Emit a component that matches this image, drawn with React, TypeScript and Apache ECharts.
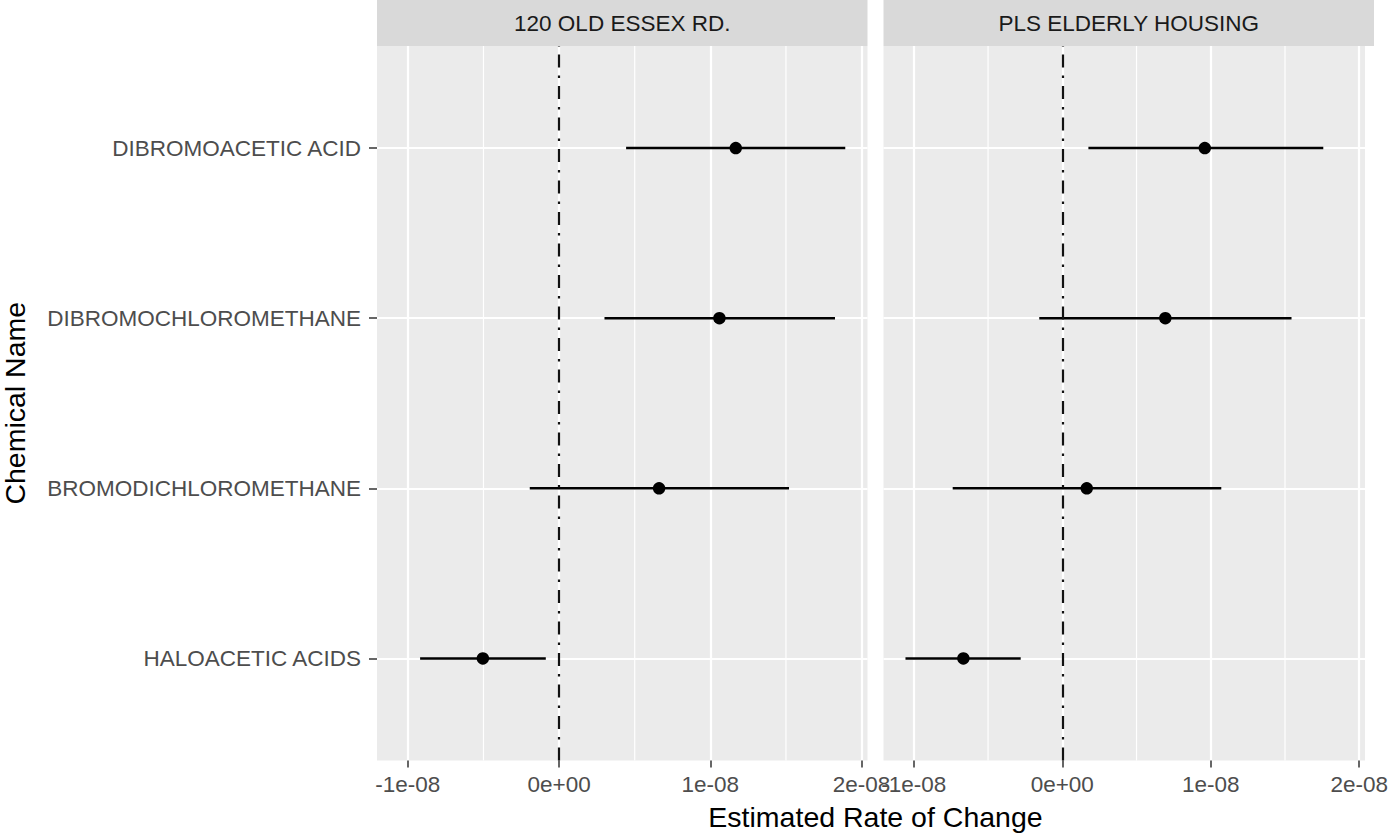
import React, { useEffect, useRef } from "react";
import * as echarts from "echarts";

// Facet titles
const facets = ["120 OLD ESSEX RD.", "PLS ELDERLY HOUSING"];
// Chemicals, listed from bottom to top of the y axis
const chemicals = [
  "HALOACETIC ACIDS",
  "BROMODICHLOROMETHANE",
  "DIBROMOCHLOROMETHANE",
  "DIBROMOACETIC ACID",
];
// 120 OLD ESSEX RD.
const essexEstimate = [-0.504e-8, 0.661e-8, 1.06e-8, 1.168e-8];
const essexLower = [-0.919e-8, -0.194e-8, 0.3e-8, 0.443e-8];
const essexUpper = [-0.088e-8, 1.52e-8, 1.824e-8, 1.892e-8];
// PLS ELDERLY HOUSING
const plsEstimate = [-0.666e-8, 0.165e-8, 0.694e-8, 0.96e-8];
const plsLower = [-1.056e-8, -0.738e-8, -0.155e-8, 0.176e-8];
const plsUpper = [-0.28e-8, 1.071e-8, 1.544e-8, 1.758e-8];
// Axis ticks
const xMajorTicks = [-1e-8, 0, 1e-8, 2e-8];
const xTickLabels = ["-1e-08", "0e+00", "1e-08", "2e-08"];
const xMinorBreaks = [-0.5e-8, 0.5e-8, 1.5e-8];
const xLimits = [-1.204e-8, 2.039e-8];
const yLimits = [0.4, 4.6];
const referenceLine = 0;

const FONT = "'Liberation Sans', Arial, Helvetica, sans-serif";

export default function App() {
  const ref = useRef<HTMLDivElement>(null);

  useEffect(() => {
    if (!ref.current) return;
    const chart = echarts.init(ref.current, null, { renderer: "svg" });

    const panels = [
      { est: essexEstimate, lo: essexLower, hi: essexUpper },
      { est: plsEstimate, lo: plsLower, hi: plsUpper },
    ];
    const gridLefts = [377, 883.5];
    const gridWidth = 490.5;
    const gridTop = 46;
    const gridHeight = 714.5;
    const yPositions = chemicals.map((_, i) => i + 1);

    const fmtX = (v: number) => {
      const idx = xMajorTicks.findIndex((t) => Math.abs(t - v) < 1e-12);
      return idx >= 0 ? xTickLabels[idx] : "";
    };

    const grids = gridLefts.map((left) => ({
      left,
      top: gridTop,
      width: gridWidth,
      height: gridHeight,
      show: true,
      backgroundColor: "#EBEBEB",
      borderWidth: 0,
      containLabel: false,
    }));

    const xAxes = gridLefts.map((_, gi) => ({
      type: "value",
      gridIndex: gi,
      min: xLimits[0],
      max: xLimits[1],
      axisLine: { show: false, onZero: false },
      axisTick: {
        show: true,
        length: 7,
        customValues: xMajorTicks,
        lineStyle: { color: "#333333", width: 1.5 },
      },
      axisLabel: {
        show: true,
        customValues: xMajorTicks,
        formatter: fmtX,
        fontSize: 22.5,
        fontFamily: FONT,
        color: "#4D4D4D",
        margin: 12,
      },
      splitLine: { show: true, lineStyle: { color: "#FFFFFF", width: 2.2 } },
    }));

    const yAxes = gridLefts.map((_, gi) => ({
      type: "value",
      gridIndex: gi,
      min: yLimits[0],
      max: yLimits[1],
      axisLine: { show: false, onZero: false },
      axisTick: {
        show: gi === 0,
        length: 8,
        customValues: yPositions,
        lineStyle: { color: "#333333", width: 1.5 },
      },
      axisLabel: {
        show: gi === 0,
        customValues: yPositions,
        formatter: (v: number) => chemicals[Math.round(v) - 1] ?? "",
        fontSize: 22.5,
        fontFamily: FONT,
        color: "#4D4D4D",
        margin: 16,
      },
      splitLine: { show: true, lineStyle: { color: "#FFFFFF", width: 2.2 } },
    }));

    const series: any[] = [];
    panels.forEach((p, gi) => {
      // minor grid lines
      series.push({
        type: "custom",
        xAxisIndex: gi,
        yAxisIndex: gi,
        z: 1,
        silent: true,
        data: xMinorBreaks.map((v) => [v]),
        encode: { x: 0 },
        renderItem: (params: any, api: any) => {
          const v = api.value(0);
          const a = api.coord([v, yLimits[0]]);
          const b = api.coord([v, yLimits[1]]);
          return {
            type: "line",
            shape: { x1: a[0], y1: a[1], x2: b[0], y2: b[1] },
            style: { stroke: "#FFFFFF", lineWidth: 1.2 },
          };
        },
      });
      // reference line
      series.push({
        type: "line",
        xAxisIndex: gi,
        yAxisIndex: gi,
        data: [],
        z: 3,
        silent: true,
        markLine: {
          silent: true,
          symbol: ["none", "none"],
          label: { show: false },
          lineStyle: { color: "#111111", width: 2.2, type: [13, 8, 2.5, 8] },
          data: [{ xAxis: referenceLine }],
        },
      });
      // error bars
      series.push({
        type: "custom",
        xAxisIndex: gi,
        yAxisIndex: gi,
        z: 4,
        data: chemicals.map((_, i) => [p.lo[i], p.hi[i], yPositions[i]]),
        encode: { x: [0, 1], y: 2 },
        renderItem: (params: any, api: any) => {
          const y = api.value(2);
          const a = api.coord([api.value(0), y]);
          const b = api.coord([api.value(1), y]);
          return {
            type: "line",
            shape: { x1: a[0], y1: a[1], x2: b[0], y2: b[1] },
            style: { stroke: "#000000", lineWidth: 2.6 },
          };
        },
      });
      // points
      series.push({
        type: "scatter",
        xAxisIndex: gi,
        yAxisIndex: gi,
        z: 5,
        symbol: "circle",
        symbolSize: 12.5,
        itemStyle: { color: "#000000", opacity: 1 },
        data: chemicals.map((_, i) => [p.est[i], yPositions[i]]),
      });
    });

    const graphics: any[] = [];
    gridLefts.forEach((left, gi) => {
      graphics.push({
        type: "rect",
        shape: { x: left, y: 0, width: gridWidth, height: gridTop },
        style: { fill: "#D9D9D9" },
        z: 0,
      });
      graphics.push({
        type: "text",
        x: left + gridWidth / 2,
        y: gridTop / 2,
        style: {
          text: facets[gi],
          fill: "#1A1A1A",
          fontSize: 22.5,
          fontFamily: FONT,
          align: "center",
          verticalAlign: "middle",
        },
        z: 1,
      });
    });
    graphics.push({
      type: "text",
      x: (gridLefts[0] + gridLefts[1] + gridWidth) / 2,
      y: 817,
      style: {
        text: "Estimated Rate of Change",
        fill: "#000000",
        fontSize: 28.5,
        fontFamily: FONT,
        align: "center",
        verticalAlign: "middle",
      },
    });
    graphics.push({
      type: "text",
      x: 15,
      y: gridTop + gridHeight / 2,
      rotation: Math.PI / 2,
      style: {
        text: "Chemical Name",
        fill: "#000000",
        fontSize: 28.5,
        fontFamily: FONT,
        align: "center",
        verticalAlign: "middle",
      },
    });

    chart.setOption({
      animation: false,
      backgroundColor: "#FFFFFF",
      grid: grids,
      xAxis: xAxes,
      yAxis: yAxes,
      series,
      graphic: graphics,
    });

    return () => chart.dispose();
  }, []);

  return (
    <div
      ref={ref}
      style={{ position: "fixed", left: 0, top: 0, width: 1391, height: 833 }}
    />
  );
}
